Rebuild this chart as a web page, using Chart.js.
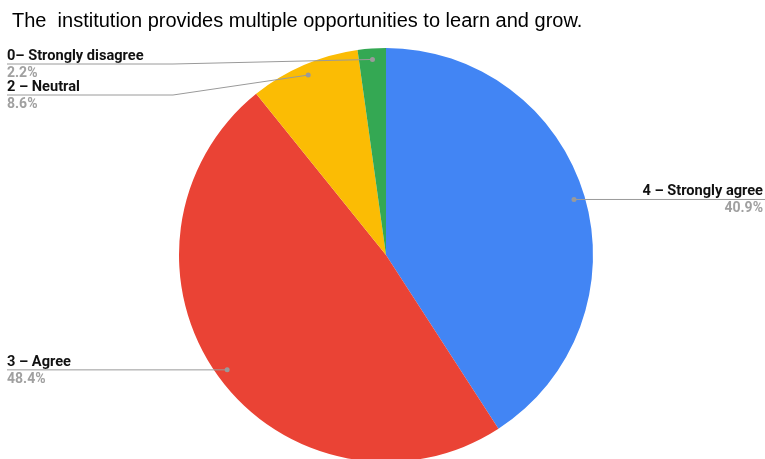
<!DOCTYPE html>
<html>
<head>
<meta charset="utf-8">
<script src="https://cdn.jsdelivr.net/npm/chart.js@4"></script>
<style>
html,body{margin:0;padding:0;background:#fff;overflow:hidden;width:765px;height:459px;}
canvas{display:block;}
</style>
</head>
<body>
<canvas id="c" width="765" height="470" style="width:765px;height:470px"></canvas>
<script>
const titleText = 'The  institution provides multiple opportunities to learn and grow.';
const categories = ['4 – Strongly agree', '3 – Agree', '2 – Neutral', '0– Strongly disagree'];
const values = [40.9, 48.4, 8.6, 2.2];
const colors = ['#4285F4', '#EA4335', '#FBBC04', '#34A853'];

// label line y overrides for crowded labels (layout only)
const labelLineY = [null, null, 95, 64];

const labelPlugin = {
  id: 'labels',
  afterDraw(chart) {
    const ctx = chart.ctx;
    ctx.save();
    // title
    ctx.fillStyle = '#000';
    ctx.font = '20px "Liberation Sans", Arial, sans-serif';
    ctx.textBaseline = 'alphabetic';
    ctx.textAlign = 'left';
    ctx.fillText(titleText, 12, 27);

    const meta = chart.getDatasetMeta(0);
    meta.data.forEach((arc, i) => {
      const p = arc.getProps(['x', 'y', 'startAngle', 'endAngle', 'outerRadius'], true);
      const mid = (p.startAngle + p.endAngle) / 2;
      const r = p.outerRadius * 0.947;
      const dx = p.x + Math.cos(mid) * r;
      const dy = p.y + Math.sin(mid) * r;
      const right = Math.cos(mid) > 0;
      const ly = labelLineY[i] != null ? labelLineY[i] : dy;
      ctx.strokeStyle = '#9a9a9a';
      ctx.lineWidth = 1;
      ctx.beginPath();
      if (right) {
        ctx.moveTo(dx, ly);
        ctx.lineTo(765, ly);
      } else {
        ctx.moveTo(7, ly);
        if (labelLineY[i] != null) {
          ctx.lineTo(173, ly);
        }
        ctx.lineTo(dx, dy);
      }
      ctx.stroke();
      ctx.fillStyle = '#9a9a9a';
      ctx.beginPath();
      ctx.arc(dx, dy, 2.5, 0, Math.PI * 2);
      ctx.fill();

      ctx.textAlign = right ? 'right' : 'left';
      const tx = right ? 763 : 7;
      ctx.font = 'bold 14.6px Roboto, "Liberation Sans", sans-serif';
      ctx.fillStyle = '#111';
      ctx.fillText(categories[i], tx, ly - 4);
      ctx.font = 'bold 14px Roboto, "Liberation Sans", sans-serif';
      ctx.fillStyle = '#a0a0a0';
      ctx.fillText(values[i].toFixed(1) + '%', tx, ly + 13);
    });
    ctx.restore();
  }
};

new Chart(document.getElementById('c'), {
  type: 'pie',
  data: {
    labels: categories,
    datasets: [{
      data: values,
      backgroundColor: colors,
      borderWidth: 0
    }]
  },
  options: {
    responsive: false,
    animation: false,
    layout: { padding: { left: 7, right: 0, top: 48, bottom: 8 } },
    plugins: {
      legend: { display: false },
      tooltip: { enabled: false },
      title: { display: false }
    }
  },
  plugins: [labelPlugin]
});
</script>
</body>
</html>
